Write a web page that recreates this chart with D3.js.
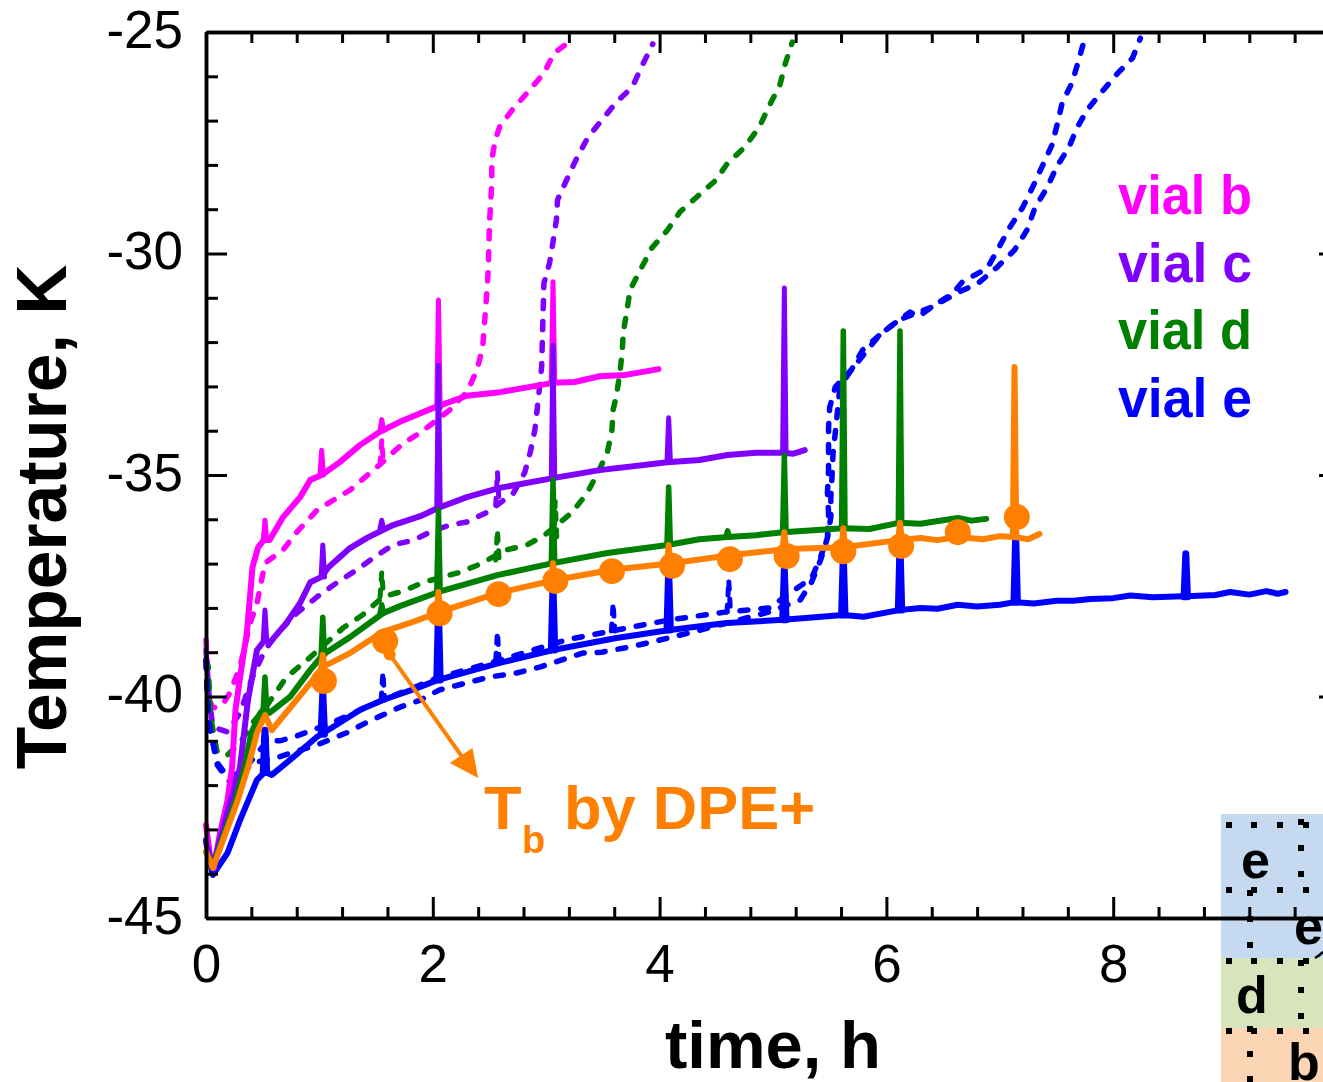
<!DOCTYPE html>
<html>
<head>
<meta charset="utf-8">
<script src="https://cdn.jsdelivr.net/npm/d3@7"></script>
<style>
    html, body { margin: 0; padding: 0; background: #fff; overflow: hidden; }
    svg { display: block; }
    text { font-family: "Liberation Sans", Arial, sans-serif; fill: #000; }
    .axis path, .axis line { stroke: #000; }
</style>
</head>
<body>
<div id="chart"></div>
<script>
// solid curves: [time h, temperature]
const solidB = [[0,-42.9],[.04,-43.69],[.07,-43.87],[.12,-43.13],[.19,-42.34],[.23,-41.6],[.26,-40.30],[.31,-39.4],[.36,-38.57],[.41,-37.08],[.46,-36.63],[.51,-36.47],[.56,-36.47],[.68,-35.95],[.83,-35.50],[.92,-35.11],[1.02,-35.0],[1.18,-34.71],[1.36,-34.32],[1.53,-34.03],[1.71,-33.80],[2.0,-33.49],[2.30,-33.21],[2.59,-33.13],[3.06,-32.92],[3.25,-32.90],[3.47,-32.77],[3.7,-32.74],[3.99,-32.61]];
const solidC = [[0,-43.3],[.06,-43.85],[.14,-43.08],[.30,-41.6],[.37,-40.08],[.45,-38.95],[.52,-38.72],[.56,-38.79],[.71,-38.34],[.83,-37.89],[.92,-37.42],[1.02,-37.30],[1.08,-37.08],[1.27,-36.65],[1.42,-36.42],[1.65,-36.13],[1.89,-35.93],[2.05,-35.74],[2.30,-35.50],[2.59,-35.29],[3.06,-35.07],[3.47,-34.89],[4.07,-34.71],[4.35,-34.66],[4.60,-34.55],[4.85,-34.50],[5.09,-34.50],[5.18,-34.52],[5.28,-34.44]];
const solidD = [[0,-43.5],[.06,-43.85],[.26,-42.34],[.34,-41.6],[.40,-40.82],[.48,-40.37],[.52,-40.26],[.56,-40.37],[.74,-40.01],[.92,-39.40],[1.03,-39.06],[1.27,-38.66],[1.56,-38.12],[1.71,-37.96],[2.05,-37.64],[2.57,-37.26],[3.06,-36.99],[3.54,-36.76],[4.07,-36.58],[4.35,-36.45],[4.60,-36.40],[4.85,-36.36],[5.09,-36.29],[5.62,-36.20],[5.85,-36.22],[6.11,-36.08],[6.30,-36.10],[6.50,-36.02],[6.63,-35.97],[6.75,-36.03],[6.88,-35.99]];
const solidE = [[0,-43.24],[.06,-44.03],[.19,-43.53],[.30,-42.79],[.45,-41.88],[.52,-41.70],[.58,-41.77],[.77,-41.37],[.98,-40.91],[1.12,-40.69],[1.36,-40.30],[1.56,-40.08],[1.86,-39.81],[2.04,-39.63],[2.59,-39.24],[3.06,-38.95],[3.62,-38.68],[4.09,-38.50],[4.59,-38.34],[5.09,-38.27],[5.62,-38.16],[5.80,-38.20],[6.11,-38.05],[6.30,-38.00],[6.45,-38.02],[6.63,-37.93],[6.80,-37.97],[7.00,-37.93],[7.13,-37.87],[7.30,-37.90],[7.50,-37.84],[7.65,-37.84],[7.80,-37.80],[8.00,-37.78],[8.15,-37.72],[8.35,-37.76],[8.55,-37.74],[8.70,-37.73],[8.90,-37.71],[9.03,-37.64],[9.20,-37.70],[9.35,-37.62],[9.45,-37.68],[9.52,-37.64]];
const solidTb = [[0,-43.5],[.06,-43.87],[.28,-42.34],[.37,-41.6],[.45,-40.82],[.52,-40.42],[.58,-40.76],[.74,-40.26],[.92,-39.70],[1.03,-39.33],[1.27,-39.02],[1.56,-38.54],[1.80,-38.34],[2.06,-38.09],[2.58,-37.66],[3.08,-37.37],[3.58,-37.14],[4.11,-36.99],[4.62,-36.81],[5.12,-36.67],[5.62,-36.63],[6.11,-36.47],[6.30,-36.42],[6.45,-36.47],[6.63,-36.40],[6.85,-36.45],[7.00,-36.38],[7.13,-36.40],[7.25,-36.45],[7.35,-36.33]];

// dashed curves
const dashB = [[0,-38.72],[.03,-40.08],[.06,-40.26],[.14,-40.21],[.21,-39.92],[.30,-39.33],[.39,-38.34],[.45,-37.89],[.52,-36.99],[.68,-36.69],[.80,-36.29],[.98,-35.79],[1.27,-35.34],[1.53,-34.77],[1.74,-34.28],[1.90,-34.03],[2.15,-33.53],[2.30,-33.13],[2.39,-32.63],[2.44,-32.11],[2.48,-30.76],[2.49,-30.30],[2.50,-29.31],[2.52,-28.41],[2.52,-27.89],[2.55,-27.44],[2.59,-27.14],[2.70,-26.76],[2.83,-26.38],[2.98,-25.93],[3.07,-25.47],[3.18,-25.27]];
const dashC = [[0,-38.95],[.03,-40.08],[.06,-40.69],[.19,-40.80],[.30,-40.37],[.41,-39.56],[.52,-38.95],[.63,-38.57],[.80,-38.12],[.98,-37.75],[1.16,-37.42],[1.33,-37.14],[1.51,-36.81],[1.65,-36.58],[1.83,-36.47],[2.00,-36.26],[2.15,-36.13],[2.30,-36.06],[2.48,-35.84],[2.71,-35.41],[2.81,-34.95],[2.86,-34.48],[2.90,-33.98],[2.92,-33.53],[2.96,-32.56],[2.97,-31.57],[2.98,-30.67],[3.03,-30.21],[3.06,-29.74],[3.09,-29.24],[3.10,-28.79],[3.18,-28.34],[3.27,-27.84],[3.37,-27.37],[3.49,-26.99],[3.62,-26.58],[3.76,-26.24],[3.84,-25.79],[3.94,-25.27]];
const dashD = [[0,-39.18],[.02,-39.33],[.04,-40.46],[.10,-41.28],[.19,-41.32],[.30,-41.05],[.41,-40.60],[.54,-40.19],[.71,-39.56],[.89,-39.18],[1.21,-38.45],[1.38,-38.16],[1.56,-37.75],[1.74,-37.62],[1.92,-37.42],[2.22,-37.21],[2.40,-37.03],[2.65,-36.69],[2.83,-36.58],[2.99,-36.35],[3.23,-35.84],[3.36,-35.41],[3.46,-34.93],[3.54,-34.48],[3.58,-33.98],[3.59,-33.53],[3.62,-33.19],[3.65,-32.70],[3.67,-32.22],[3.68,-31.77],[3.71,-31.32],[3.74,-30.82],[3.83,-30.37],[3.93,-29.88],[4.07,-29.47],[4.18,-29.06],[4.33,-28.72],[4.49,-28.36],[4.60,-27.96],[4.75,-27.60],[4.88,-27.14],[4.97,-26.65],[5.06,-26.20],[5.11,-25.70],[5.17,-25.23]];
const dashE1 = [[0,-39.18],[.02,-40.53],[.10,-41.50],[.21,-41.88],[.39,-41.48],[.54,-41.00],[.65,-41.00],[.77,-40.92],[1.12,-40.58],[1.56,-40.08],[2.04,-39.58],[2.59,-39.18],[3.18,-38.72],[3.62,-38.50],[4.09,-38.27],[4.59,-38.09],[4.97,-38.0],[5.15,-37.66],[5.34,-37.33],[5.42,-36.85],[5.48,-36.40],[5.49,-35.86],[5.48,-35.41],[5.49,-34.89],[5.49,-34.44],[5.49,-33.92],[5.50,-33.47],[5.55,-33.01],[5.69,-32.63],[5.79,-32.18],[5.94,-31.84],[6.11,-31.50],[6.21,-31.32],[6.28,-31.43],[6.40,-31.21],[6.59,-30.89],[6.67,-30.64],[6.89,-30.33],[6.98,-29.92],[7.09,-29.40],[7.20,-28.97],[7.29,-28.50],[7.38,-28.0],[7.46,-27.55],[7.51,-27.05],[7.55,-26.60],[7.64,-26.13],[7.69,-25.68],[7.75,-25.14]];
const dashE2 = [[0,-39.18],[.02,-40.53],[.10,-41.55],[.23,-42.0],[.41,-41.5],[.61,-41.39],[.98,-41.09],[1.24,-40.82],[1.42,-40.58],[1.71,-40.24],[1.89,-40.08],[2.06,-39.85],[2.50,-39.56],[2.74,-39.47],[2.95,-39.33],[3.32,-39.02],[3.49,-39.0],[3.74,-38.88],[3.93,-38.77],[4.36,-38.5],[4.97,-38.09],[5.24,-37.82],[5.34,-37.42],[5.42,-36.92],[5.48,-36.42],[5.51,-35.95],[5.51,-35.50],[5.52,-35.05],[5.53,-34.50],[5.55,-34.03],[5.57,-33.53],[5.59,-33.01],[5.69,-32.63],[5.94,-31.84],[6.11,-31.50],[6.40,-31.21],[6.64,-30.87],[6.81,-30.67],[6.98,-30.30],[7.13,-29.92],[7.24,-29.47],[7.31,-28.97],[7.42,-28.50],[7.50,-28.05],[7.61,-27.60],[7.68,-27.17],[7.77,-26.76],[7.90,-26.35],[8.04,-25.93],[8.17,-25.59],[8.24,-25.14]];

// spikes: [time h, base, top]
const spikesB = [[.52,-36.47,-36.02],[1.02,-35.0,-34.44],[1.55,-34.0,-33.75],[2.05,-33.49,-31.05],[3.06,-32.92,-30.64]];
const spikesC = [[.52,-38.72,-38.05],[1.03,-37.30,-36.58],[1.55,-36.2,-36.02],[2.05,-35.74,-32.52],[3.06,-35.07,-32.07],[4.08,-34.71,-33.71],[5.10,-34.5,-30.78]];
const spikesD = [[.52,-40.26,-39.56],[1.03,-39.06,-38.21],[1.55,-38.12,-37.93],[2.05,-37.64,-35.79],[3.06,-36.99,-35.11],[4.08,-36.58,-35.27],[4.6,-36.40,-36.26],[5.10,-36.29,-34.55],[5.62,-36.20,-31.75],[6.12,-36.08,-31.75]];
const spikesE = [[.52,-41.70,-40.76],[1.03,-40.85,-39.92],[2.05,-39.63,-38.05],[3.06,-38.95,-37.48],[4.08,-38.50,-37.14],[5.10,-38.27,-37.14],[5.62,-38.16,-36.81],[6.12,-38.05,-36.58],[7.14,-37.87,-36.36],[8.64,-37.75,-36.78]];
const spikesTb = [[1.03,-39.33,-39.06],[2.05,-38.09,-37.64],[3.06,-37.37,-36.99],[4.08,-36.99,-36.58],[5.10,-36.67,-36.29],[5.62,-36.63,-36.2],[6.12,-36.47,-36.08],[7.13,-36.40,-32.56]];
const dashSpikesB = [[1.55,-34.77,-34.21]];
const dashSpikesC = [[2.57,-35.68,-34.93]];
const dashSpikesD = [[1.55,-37.75,-37.19],[2.57,-36.92,-36.24],[3.08,-36.5,-35.6]];
const dashSpikesE = [[.52,-41.0,-40.76],[1.03,-40.7,-39.9],[1.56,-40.08,-39.45],[2.57,-39.18,-38.54],[3.59,-38.52,-37.89],[4.61,-38.09,-37.37]];

// Tb points from DPE+
const tbPoints = [[1.04,-39.65],[1.58,-38.75],[2.06,-38.12],[2.58,-37.69],[3.08,-37.39],[3.58,-37.17],[4.11,-37.05],[4.62,-36.90],[5.12,-36.83],[5.62,-36.72],[6.13,-36.60],[6.63,-36.29],[7.15,-35.95]];

const xMajor = [0, 2, 4, 6, 8, 10];
const xMinor = [.4, .8, 1.2, 1.6, 2.4, 2.8, 3.2, 3.6, 4.4, 4.8, 5.2, 5.6, 6.4, 6.8, 7.2, 7.6, 8.4, 8.8, 9.2, 9.6];
const yMajor = [-25, -30, -35, -40, -45];
const yMinor = [-26, -27, -28, -29, -31, -32, -33, -34, -36, -37, -38, -39, -41, -42, -43, -44];

const legendNames = ['vial b', 'vial c', 'vial d', 'vial e'];
const colors = { b: '#ff00ff', c: '#8000ff', d: '#008000', e: '#0000ff', tb: '#ff8000' };

const width = 1323, height = 1082;
const svg = d3.select('#chart').append('svg').attr('width', width).attr('height', height);

const x = d3.scaleLinear().domain([0, 10]).range([206, 1340]);
const y = d3.scaleLinear().domain([-45, -25]).range([918, 32]);

const line = d3.line().x(d => x(d[0])).y(d => y(d[1]));
const spikeHalf = 0.015;

// coloured block behind the axis, bottom right
const blocks = [
    { y: 814, h: 144, fill: '#c5d9f1' },
    { y: 958, h: 70, fill: '#d8e4bc' },
    { y: 1028, h: 54, fill: '#fcd5b5' }
];
svg.selectAll('.block').data(blocks).enter().append('rect')
    .attr('x', 1221).attr('y', d => d.y).attr('width', 102).attr('height', d => d.h)
    .attr('fill', d => d.fill);

function drawCurve(points, spikes, color, dashed, spikeWidth) {
    const w = dashed ? 5.5 : 6;
    svg.append('path').datum(points)
        .attr('d', line).attr('fill', 'none').attr('stroke', color)
        .attr('stroke-width', w).attr('stroke-linejoin', 'round').attr('stroke-linecap', 'round')
        .attr('stroke-dasharray', dashed ? '8 13' : null);
    spikes.forEach(s => {
        svg.append('path').datum([[s[0] - spikeHalf, s[1]], [s[0], s[2]], [s[0] + spikeHalf, s[1]]])
            .attr('d', line).attr('fill', dashed ? 'none' : color).attr('stroke', color)
            .attr('stroke-width', spikeWidth).attr('stroke-linejoin', 'round').attr('stroke-linecap', 'round')
            .attr('stroke-dasharray', dashed ? '7 10' : null);
    });
}

drawCurve(dashB, dashSpikesB, colors.b, true, 5);
drawCurve(dashC, dashSpikesC, colors.c, true, 5);
drawCurve(dashD, dashSpikesD, colors.d, true, 5);
drawCurve(dashE1, dashSpikesE, colors.e, true, 5);
drawCurve(dashE2, [], colors.e, true, 5);

drawCurve(solidE, spikesE, colors.e, false, 7);
drawCurve(solidB, spikesB, colors.b, false, 5);
drawCurve(solidC, spikesC, colors.c, false, 5);
drawCurve(solidD, spikesD, colors.d, false, 5.5);
drawCurve(solidTb, spikesTb, colors.tb, false, 6);

svg.selectAll('.tb').data(tbPoints).enter().append('circle')
    .attr('class', 'tb')
    .attr('cx', d => x(d[0])).attr('cy', d => y(d[1])).attr('r', 13)
    .attr('fill', colors.tb);

// axes, four sides, ticks pointing in
function tickAxis(axis, values, size, transform) {
    const g = svg.append('g').attr('class', 'axis').attr('transform', transform)
        .call(axis.tickValues(values).tickSizeInner(size).tickSizeOuter(0).tickFormat(''));
    g.selectAll('line').attr('stroke-width', 3);
    g.select('.domain').attr('stroke-width', 3.5);
    return g;
}
tickAxis(d3.axisBottom(x), xMinor, -11, 'translate(0,918)');
tickAxis(d3.axisBottom(x), xMajor, -21, 'translate(0,918)');
tickAxis(d3.axisTop(x), xMinor, -11, 'translate(0,32)');
tickAxis(d3.axisTop(x), xMajor, -21, 'translate(0,32)');
tickAxis(d3.axisLeft(y), yMinor, -12, 'translate(206,0)');
tickAxis(d3.axisLeft(y), yMajor, -21, 'translate(206,0)');
tickAxis(d3.axisRight(y), yMinor, -12, 'translate(1340,0)');
tickAxis(d3.axisRight(y), yMajor, -21, 'translate(1340,0)');

// tick labels
const xLabels = svg.append('g').attr('transform', 'translate(0,918)')
    .call(d3.axisBottom(x).tickValues(xMajor.slice(0, 5)).tickSize(0).tickPadding(26).tickFormat(d3.format('d')));
const yLabels = svg.append('g').attr('transform', 'translate(206,0)')
    .call(d3.axisLeft(y).tickValues(yMajor).tickSize(0).tickPadding(23).tickFormat(d => String(d)));
[xLabels, yLabels].forEach(g => {
    g.select('.domain').remove();
    g.selectAll('text').style('font-size', '53px').style('font-family', '"Liberation Sans", Arial, sans-serif').attr('fill', '#000');
});
yLabels.selectAll('text').attr('dy', '.29em');

svg.append('text').attr('x', 773).attr('y', 1068).attr('text-anchor', 'middle')
    .style('font-size', '67px').style('font-weight', 'bold').text('time, h');
svg.append('text').attr('transform', 'translate(66,517) rotate(-90)').attr('text-anchor', 'middle')
    .style('font-size', '69.5px').style('font-weight', 'bold').text('Temperature, K');

// legend
const legendColors = [colors.b, colors.c, colors.d, colors.e];
const legendBase = [214, 282, 349, 417];
svg.selectAll('.legend').data(legendNames).enter().append('text')
    .attr('x', 1118).attr('y', (d, i) => legendBase[i])
    .attr('textLength', 134).attr('lengthAdjust', 'spacingAndGlyphs')
    .style('font-size', '56px').style('font-weight', 'bold')
    .style('fill', (d, i) => legendColors[i])
    .text(d => d);

// Tb annotation
const arrowFrom = [1.62, -39.05], arrowTo = [2.31, -41.55];
svg.append('circle').attr('cx', x(arrowFrom[0])).attr('cy', y(arrowFrom[1])).attr('r', 6).attr('fill', colors.tb);
svg.append('line')
    .attr('x1', x(arrowFrom[0])).attr('y1', y(arrowFrom[1]))
    .attr('x2', x(arrowTo[0])).attr('y2', y(arrowTo[1]))
    .attr('stroke', colors.tb).attr('stroke-width', 4);
svg.append('path').datum([[2.40, -41.84], [2.15, -41.50], [2.35, -41.16], [2.40, -41.84]])
    .attr('d', line).attr('fill', colors.tb);

const tbLabel = svg.append('text').attr('x', 484).attr('y', 829)
    .style('font-size', '61.5px').style('font-weight', 'bold').style('fill', colors.tb);
tbLabel.append('tspan').text('T');
tbLabel.append('tspan').attr('x', 522).attr('y', 853).style('font-size', '38px').text('b');
tbLabel.append('tspan').attr('x', 564).attr('y', 829).text('by DPE+');

// well letters and dotted outlines in the corner block
const wellLetters = [
    { t: 'e', x: 1241, y: 878 },
    { t: 'e', x: 1294, y: 944 },
    { t: 'd', x: 1236, y: 1013 },
    { t: 'b', x: 1288, y: 1080 }
];
svg.selectAll('.well').data(wellLetters).enter().append('text')
    .attr('x', d => d.x).attr('y', d => d.y)
    .style('font-size', '52px').style('font-weight', 'bold').text(d => d.t);
svg.append('path').attr('d', 'M1315,958 Q1319,956 1323,952').attr('fill', 'none').attr('stroke', '#000').attr('stroke-width', 2.5);

const dotRows = [825, 890, 961, 1031];
const dotCols = [1229, 1254, 1280, 1306];
const dotExtra = [[1301,822],[1301,848],[1301,874],[1301,963],[1301,990],[1301,1016],[1250,893],[1250,919],[1250,945],[1250,1029],[1250,1054],[1250,1079]];
const dots = dotRows.flatMap(r => dotCols.map(c => [c, r])).concat(dotExtra);
svg.selectAll('.dot').data(dots).enter().append('rect')
    .attr('x', d => d[0] - 3).attr('y', d => d[1] - 3).attr('width', 6).attr('height', 6).attr('fill', '#000');
</script>
</body>
</html>
